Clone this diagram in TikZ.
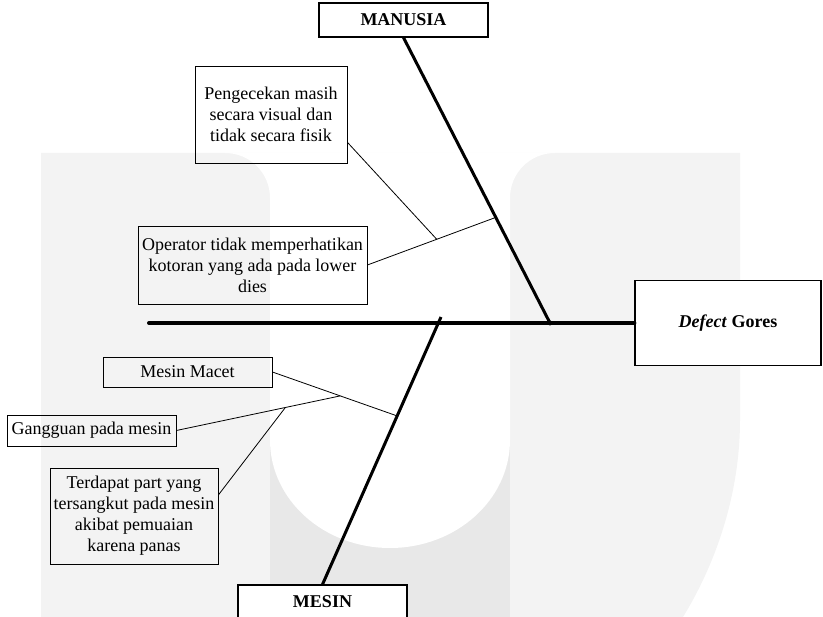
\documentclass[tikz,border=0pt]{standalone}
\usepackage{fontspec}
\setmainfont{Liberation Serif}
\usepackage{tikz}
\usetikzlibrary{calc}

\definecolor{wmlight}{HTML}{F3F3F3}
\definecolor{wmdark}{HTML}{E8E8E8}

\tikzset{
  kotak/.style={draw, line width=0.8pt, align=center, inner sep=0pt},
  kepala/.style={kotak, fill=white, line width=1.2pt, font=\fontsize{18}{21}\selectfont\bfseries},
  tulang/.style={line width=3pt},
  ranting/.style={line width=0.8pt},
}

\begin{document}
\begin{tikzpicture}[x=1pt, y=-1pt, font=\fontsize{18}{21}\selectfont]

	\clip (0,0) rectangle (823,617);

	% watermark di belakang
	\fill[wmlight] (41,617) -- (41,153) -- (740,153) -- (740,420)
		.. controls (740,500) and (712,570) .. (683,617) -- cycle;
	\fill[wmdark] (270,400) rectangle (510,617);
	\fill[white] (225,153) .. controls (250,153) and (270,173) .. (270,198) -- (270,440)
		.. controls (270,500) and (324,548) .. (390,548)
		.. controls (456,548) and (510,500) .. (510,440) -- (510,198)
		.. controls (510,173) and (530,153) .. (555,153) -- cycle;

	% kepala dan kategori
	\node[kepala, minimum width=169pt, minimum height=34pt] (manusia) at (403.5,20) {MANUSIA};
	\node[kepala, minimum width=186pt, minimum height=85pt] (defect) at (728,323) {\textit{Defect} Gores};
	\node[kepala, minimum width=169pt, minimum height=34pt] (mesin) at (322.5,602) {MESIN};

	% penyebab manusia
	\node[kotak, minimum width=152pt, minimum height=97pt] (cek) at (271,114.5)
		{Pengecekan masih\\secara visual dan\\tidak secara fisik};
	\node[kotak, minimum width=229pt, minimum height=78pt] (operator) at (252.5,265)
		{Operator tidak memperhatikan\\kotoran yang ada pada lower\\dies};

	% penyebab mesin
	\node[kotak, minimum width=169pt, minimum height=30pt] (macet) at (187.5,372) {Mesin Macet};
	\node[kotak, minimum width=169pt, minimum height=31pt] (gangguan) at (91.5,430.5) {Gangguan pada mesin};
	\node[kotak, minimum width=168pt, minimum height=96pt] (part) at (134,516)
		{Terdapat part yang\\tersangkut pada mesin\\akibat pemuaian\\karena panas};

	% tulang utama
	\coordinate (ekor) at (149,323);
	\coordinate (mhead) at (550,323);
	\coordinate (shead) at (441,317);
	\draw[line width=4pt, line cap=round] (ekor) -- (ekor -| defect.west);
	\draw[tulang] (manusia.south) -- (mhead);
	\fill (mhead) circle (2.5);
	\draw[tulang] (shead) -- (mesin.north);

	% ranting manusia
	\coordinate (m1) at ($(manusia.south)!0.63!(mhead)$);
	\draw[ranting] (operator.east) -- (m1);
	\coordinate (m2) at ($(operator.east)!0.54!(m1)$);
	\draw[ranting] (cek.-20) -- (m2);

	% ranting mesin
	\coordinate (s1) at ($(shead)!0.37!(mesin.north)$);
	\draw[ranting] (macet.east) -- (s1);
	\coordinate (s2) at ($(macet.east)!0.544!(s1)$);
	\draw[ranting] (gangguan.east) -- (s2);
	\coordinate (s3) at ($(gangguan.east)!0.665!(s2)$);
	\draw[ranting] (part.14) -- (s3);

\end{tikzpicture}
\end{document}
